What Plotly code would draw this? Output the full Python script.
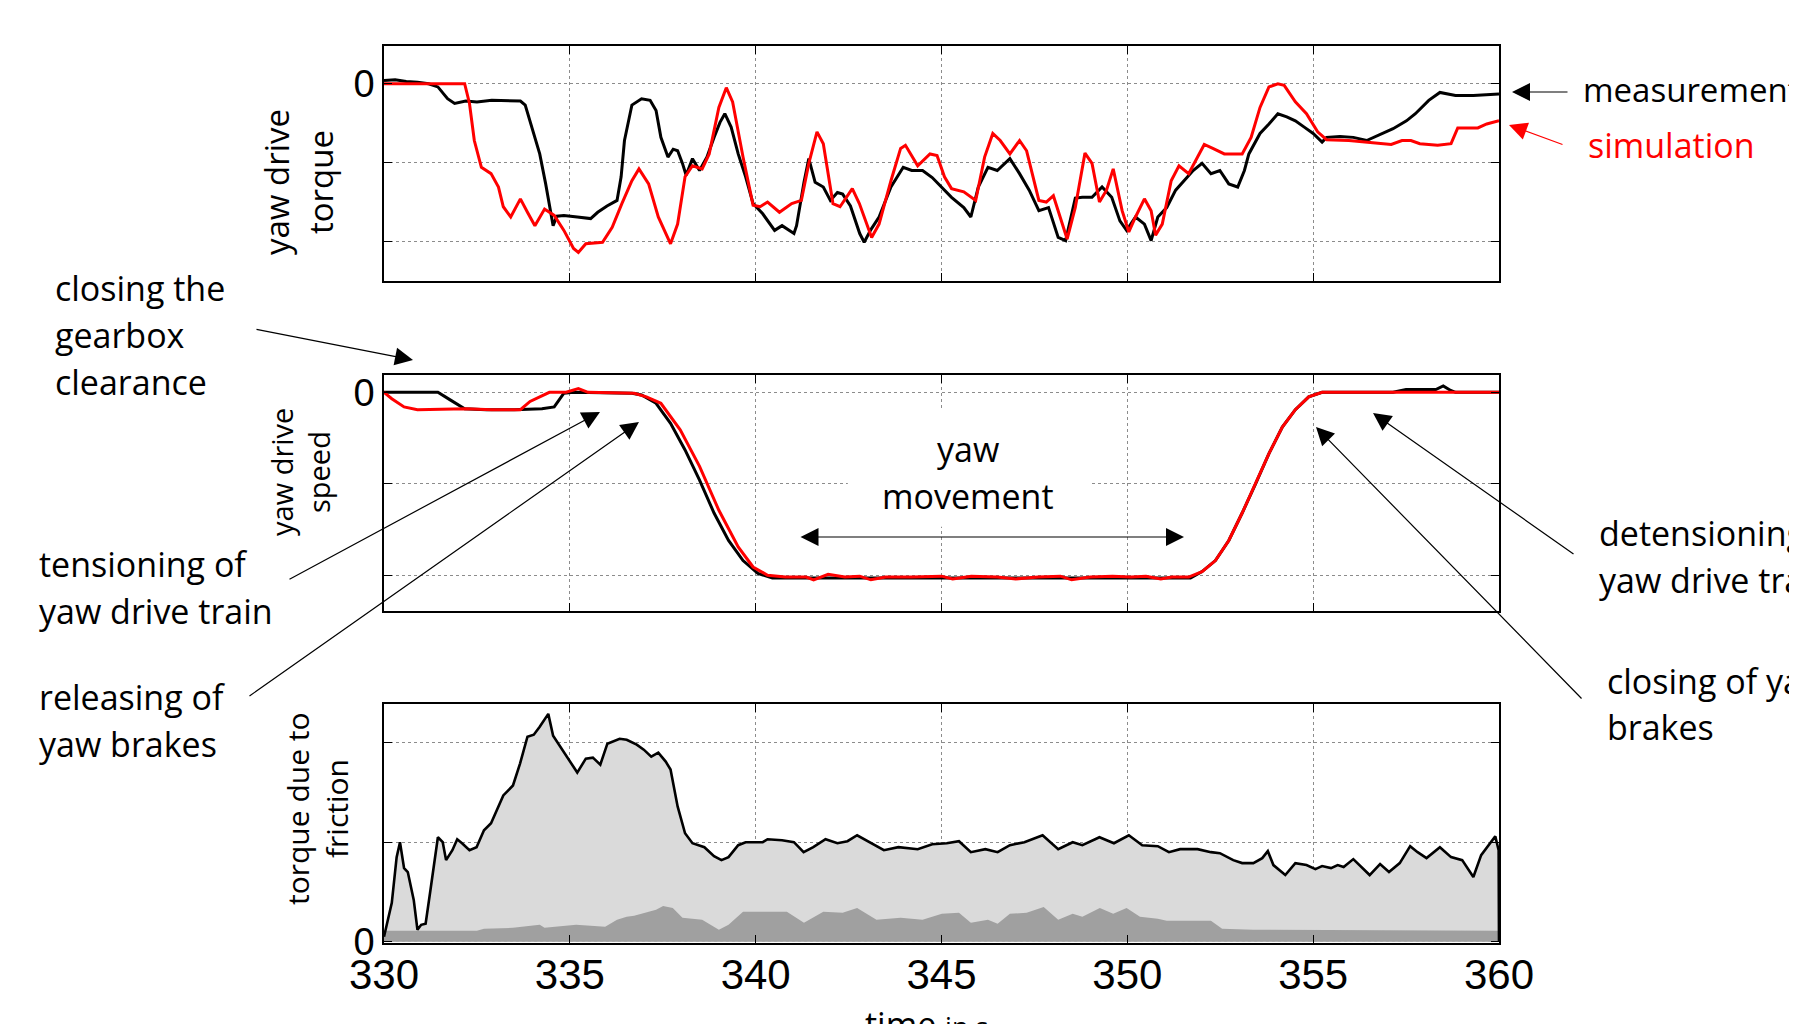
import plotly.graph_objects as go

W, H = 1797, 1024
OFF = 8              # default page margin of the html body
WF, HF = W - OFF, H - OFF

# ---------------- data ----------------
# top panel: yaw drive torque (normalised units, 0 = top gridline)
torque_meas_t = [330.0, 330.3, 330.6, 330.9, 331.2, 331.45, 331.71, 331.9, 332.2, 332.5, 332.9, 333.3,
                 333.67, 333.8, 334.0, 334.19, 334.35, 334.47, 334.55, 334.65, 334.84, 335.2, 335.56,
                 335.75, 336.0, 336.27, 336.38, 336.47, 336.67, 336.93, 337.16, 337.32, 337.45, 337.64,
                 337.78, 337.9, 338.03, 338.13, 338.3, 338.49, 338.69, 338.88, 339.04, 339.17, 339.34,
                 339.53, 339.73, 339.93, 340.19, 340.51, 340.71, 341.03, 341.1, 341.3, 341.43, 341.6,
                 341.82, 342.01, 342.2, 342.34, 342.55, 342.8, 342.92, 343.1, 343.32, 343.64, 343.97,
                 344.2, 344.49, 344.75, 345.01, 345.27, 345.6, 345.79, 345.99, 346.25, 346.5, 346.84,
                 347.1, 347.36, 347.62, 347.88, 348.14, 348.34, 348.6, 348.79, 349.05, 349.32, 349.58,
                 349.8, 349.98, 350.22, 350.46, 350.64, 350.82, 351.06, 351.3, 351.53, 351.77, 352.01,
                 352.25, 352.49, 352.73, 352.97, 353.15, 353.27, 353.57, 353.81, 354.05, 354.29, 354.52,
                 354.76, 355.0, 355.24, 355.36, 355.72, 356.08, 356.44, 356.8, 357.15, 357.51, 357.75,
                 358.11, 358.41, 358.83, 359.31, 360.0]
torque_meas = [0.04, 0.05, 0.03, 0.02, 0.0, -0.04, -0.19, -0.25, -0.22, -0.23, -0.21, -0.22,
               -0.22, -0.27, -0.59, -0.89, -1.27, -1.61, -1.80, -1.68, -1.67, -1.69, -1.71,
               -1.63, -1.55, -1.48, -1.18, -0.72, -0.27, -0.19, -0.21, -0.34, -0.68, -0.93,
               -0.83, -0.85, -1.01, -1.16, -0.95, -1.10, -0.93, -0.68, -0.49, -0.38, -0.55,
               -0.89, -1.18, -1.52, -1.65, -1.86, -1.80, -1.90, -1.80, -1.25, -0.95, -1.25,
               -1.31, -1.48, -1.38, -1.40, -1.55, -1.90, -2.01, -1.85, -1.69, -1.31, -1.06,
               -1.10, -1.10, -1.19, -1.31, -1.44, -1.57, -1.69, -1.31, -1.06, -1.10, -0.95,
               -1.14, -1.35, -1.61, -1.57, -1.95, -1.99, -1.45, -1.44, -1.44, -1.31, -1.44,
               -1.74, -1.86, -1.69, -1.78, -1.99, -1.69, -1.57, -1.35, -1.23, -1.10, -1.01,
               -1.14, -1.10, -1.27, -1.31, -1.10, -0.89, -0.63, -0.51, -0.38, -0.42, -0.47,
               -0.55, -0.63, -0.74, -0.68, -0.67, -0.68, -0.72, -0.64, -0.57, -0.47, -0.38,
               -0.21, -0.11, -0.15, -0.15, -0.13]

torque_sim_t = [330.0, 332.17, 332.3, 332.43, 332.62, 332.88, 333.08, 333.21, 333.41, 333.67, 333.86,
                334.06, 334.32, 334.58, 334.84, 335.1, 335.23, 335.43, 335.88, 336.14, 336.4, 336.67,
                336.86, 337.12, 337.38, 337.71, 337.9, 338.1, 338.3, 338.56, 338.75, 339.01, 339.21,
                339.38, 339.66, 339.93, 340.12, 340.32, 340.64, 340.97, 341.23, 341.43, 341.65, 341.82,
                342.08, 342.27, 342.6, 342.79, 343.12, 343.32, 343.64, 343.9, 344.03, 344.36, 344.69,
                344.88, 345.08, 345.27, 345.6, 345.92, 346.16, 346.38, 346.58, 346.84, 347.1, 347.29,
                347.62, 347.82, 348.01, 348.14, 348.38, 348.6, 348.86, 349.05, 349.25, 349.44, 349.62,
                349.86, 350.04, 350.22, 350.46, 350.64, 350.76, 350.94, 351.18, 351.39, 351.65, 351.89,
                352.07, 352.3, 352.61, 353.09, 353.33, 353.57, 353.81, 354.05, 354.22, 354.52, 354.82,
                355.12, 355.36, 355.96, 356.44, 357.1, 357.39, 357.63, 357.87, 358.35, 358.71, 358.89,
                359.43, 359.67, 360.0]
torque_sim = [0.0, 0.0, -0.25, -0.72, -1.06, -1.14, -1.31, -1.56, -1.69, -1.46, -1.63,
              -1.80, -1.59, -1.67, -1.86, -2.09, -2.14, -2.03, -2.01, -1.82, -1.52, -1.23,
              -1.08, -1.27, -1.69, -2.03, -1.78, -1.18, -1.04, -1.08, -0.89, -0.30, -0.05,
              -0.23, -0.93, -1.54, -1.56, -1.50, -1.63, -1.52, -1.48, -1.01, -0.61, -0.76,
              -1.52, -1.56, -1.33, -1.52, -1.95, -1.78, -1.23, -0.82, -0.78, -1.04, -0.89,
              -0.91, -1.18, -1.33, -1.37, -1.48, -0.93, -0.63, -0.72, -0.89, -0.72, -0.85,
              -1.48, -1.50, -1.42, -1.61, -1.97, -1.57, -0.88, -1.01, -1.50, -1.35, -1.08,
              -1.61, -1.88, -1.69, -1.46, -1.61, -1.92, -1.78, -1.23, -1.04, -1.14, -0.93,
              -0.77, -0.82, -0.89, -0.89, -0.68, -0.30, -0.04, 0.0, -0.02, -0.23, -0.38,
              -0.61, -0.71, -0.72, -0.74, -0.77, -0.72, -0.72, -0.76, -0.78, -0.76, -0.56,
              -0.56, -0.51, -0.47]

# middle panel: yaw drive speed
speed_meas_t = [330.0, 331.45, 331.77, 332.17, 332.75, 333.5, 334.25, 334.58, 334.84, 335.1, 336.67,
                336.93, 337.32, 337.71, 338.1, 338.49, 338.88, 339.27, 339.66, 340.06, 340.45, 351.7,
                352.01, 352.37, 352.73, 353.09, 353.45, 353.81, 354.17, 354.52, 354.88, 355.24, 357.15,
                357.5, 358.3, 358.5, 358.7, 358.83, 360.0]
speed_meas = [0.0, 0.0, -0.08, -0.18, -0.19, -0.19, -0.18, -0.16, -0.01, 0.0, -0.01,
              -0.03, -0.12, -0.34, -0.63, -0.96, -1.32, -1.62, -1.84, -1.98, -2.03, -2.03,
              -1.96, -1.84, -1.62, -1.32, -1.0, -0.67, -0.38, -0.19, -0.05, 0.0, 0.0,
              0.03, 0.03, 0.07, 0.02, 0.0, 0.0]

speed_sim_t = [330.0, 330.21, 330.54, 330.9, 332.2, 332.9, 333.67, 333.93, 334.45, 334.9, 335.23,
               335.49, 336.73, 337.06, 337.45, 337.97, 338.49, 339.01, 339.53, 339.93, 340.32, 340.8,
               341.36, 341.56, 341.95, 342.4, 342.8, 343.1, 343.5, 344.2, 345.0, 345.3, 345.8,
               346.5, 347.0, 347.6, 348.2, 348.5, 349.0, 349.6, 350.1, 350.5, 350.9, 351.2,
               351.65, 352.01, 352.37, 352.73, 353.09, 353.45, 353.81, 354.17, 354.52, 354.88,
               355.24, 360.0]
speed_sim = [0.0, -0.07, -0.16, -0.19, -0.18, -0.19, -0.19, -0.10, 0.0, 0.0, 0.04,
             0.0, -0.01, -0.05, -0.12, -0.41, -0.81, -1.29, -1.69, -1.91, -2.0, -2.02,
             -2.02, -2.05, -1.99, -2.02, -2.01, -2.05, -2.02, -2.02, -2.01, -2.04, -2.01,
             -2.02, -2.04, -2.02, -2.01, -2.05, -2.02, -2.01, -2.02, -2.01, -2.04, -2.02,
             -2.02, -1.96, -1.84, -1.62, -1.32, -1.0, -0.67, -0.38, -0.19, -0.05,
             0.0, 0.0]

# bottom panel: torque due to friction (total) and the dark-grey share
friction_t = [330.0, 330.21, 330.34, 330.43, 330.54, 330.64, 330.8, 330.9, 331.0, 331.12, 331.25,
              331.38, 331.45, 331.58, 331.67, 331.84, 331.97, 332.1, 332.3, 332.49, 332.69, 332.88,
              333.21, 333.47, 333.66, 333.86, 334.03, 334.19, 334.42, 334.55, 334.84, 335.2, 335.43,
              335.62, 335.82, 336.01, 336.34, 336.53, 336.8, 336.99, 337.19, 337.38, 337.58, 337.71,
              337.9, 338.1, 338.3, 338.62, 338.88, 339.08, 339.27, 339.53, 339.73, 340.19, 340.32,
              340.71, 341.03, 341.29, 341.55, 341.88, 342.2, 342.47, 342.73, 343.06, 343.45, 343.84,
              344.36, 344.75, 345.14, 345.47, 345.79, 346.18, 346.51, 346.84, 347.23, 347.72, 348.14,
              348.53, 348.79, 349.25, 349.64, 350.04, 350.4, 350.82, 351.12, 351.42, 351.89, 352.25,
              352.49, 352.85, 353.09, 353.39, 353.63, 353.78, 353.93, 354.25, 354.52, 354.82, 355.06,
              355.24, 355.48, 355.66, 355.82, 356.08, 356.32, 356.52, 356.8, 357.04, 357.33, 357.61,
              357.81, 358.05, 358.41, 358.71, 359.01, 359.31, 359.52, 359.9, 359.99, 360.0]
friction = [0.05, 0.39, 0.85, 1.0, 0.74, 0.70, 0.42, 0.12, 0.17, 0.18, 0.52,
            0.85, 1.05, 1.0, 0.82, 0.92, 1.03, 0.99, 0.92, 0.95, 1.12, 1.19,
            1.47, 1.57, 1.79, 2.06, 2.08, 2.16, 2.29, 2.07, 1.91, 1.70, 1.84,
            1.85, 1.78, 1.99, 2.04, 2.03, 1.98, 1.93, 1.86, 1.90, 1.81, 1.73,
            1.36, 1.09, 0.99, 0.95, 0.86, 0.82, 0.85, 0.97, 1.0, 1.0, 1.03,
            1.02, 1.0, 0.90, 0.95, 1.03, 0.99, 1.01, 1.07, 1.0, 0.92, 0.95,
            0.93, 0.98, 0.99, 1.01, 0.90, 0.93, 0.90, 0.97, 1.0, 1.07, 0.93,
            1.0, 0.97, 1.05, 0.99, 1.07, 0.97, 0.96, 0.90, 0.93, 0.93, 0.90,
            0.89, 0.82, 0.79, 0.79, 0.84, 0.91, 0.77, 0.67, 0.79, 0.77, 0.73,
            0.76, 0.74, 0.77, 0.75, 0.83, 0.74, 0.67, 0.78, 0.70, 0.79, 0.96,
            0.90, 0.84, 0.95, 0.85, 0.82, 0.65, 0.87, 1.06, 0.92, 0.0]

friction_dark_t = [330.0, 332.5, 332.69, 333.47, 334.19, 334.32, 335.17, 335.95, 336.27, 336.53, 336.73,
                   336.93, 337.32, 337.51, 337.77, 338.03, 338.56, 339.01, 339.27, 339.66, 340.06,
                   340.84, 341.3, 341.82, 342.34, 342.73, 343.25, 343.9, 344.49, 345.01, 345.47,
                   345.79, 346.25, 346.51, 346.84, 347.29, 347.75, 348.14, 348.53, 348.79, 349.26,
                   349.62, 349.98, 350.34, 350.82, 351.06, 352.25, 352.55, 353.39, 353.81, 360.0]
friction_dark = [0.11, 0.11, 0.13, 0.14, 0.17, 0.14, 0.17, 0.15, 0.22, 0.25, 0.26,
                 0.28, 0.32, 0.36, 0.34, 0.24, 0.22, 0.12, 0.17, 0.30, 0.30,
                 0.30, 0.19, 0.30, 0.29, 0.34, 0.22, 0.24, 0.22, 0.28, 0.29,
                 0.19, 0.22, 0.18, 0.28, 0.29, 0.35, 0.22, 0.28, 0.25, 0.34,
                 0.28, 0.34, 0.25, 0.23, 0.21, 0.21, 0.13, 0.12, 0.12, 0.11]

x_ticks = [330, 335, 340, 345, 350, 355, 360]
x_ticktext = ["330", "335", "340", "345", "350", "355", "360"]

# ---------------- figure ----------------
def px(x):
    return (x - OFF) / WF


def py(y):
    return 1 - (y - OFF) / HF


RED = "#ff0000"
BLACK = "#000000"
TXT_FONT = "Open Sans, Lato, sans-serif"
TICK_FONT = "Liberation Sans, Arial, sans-serif"

fig = go.Figure()

fig.add_trace(go.Scatter(x=torque_meas_t, y=torque_meas, mode="lines",
                         line=dict(color=BLACK, width=3), xaxis="x", yaxis="y"))
fig.add_trace(go.Scatter(x=torque_sim_t, y=torque_sim, mode="lines",
                         line=dict(color=RED, width=3), xaxis="x", yaxis="y"))

fig.add_trace(go.Scatter(x=speed_meas_t, y=speed_meas, mode="lines",
                         line=dict(color=BLACK, width=3), xaxis="x2", yaxis="y2"))
fig.add_trace(go.Scatter(x=speed_sim_t, y=speed_sim, mode="lines",
                         line=dict(color=RED, width=3), xaxis="x2", yaxis="y2"))

fig.add_trace(go.Scatter(x=friction_t, y=friction, mode="lines", fill="tozeroy",
                         fillcolor="#dadada", line=dict(width=0), xaxis="x3", yaxis="y3"))
fig.add_trace(go.Scatter(x=friction_dark_t, y=friction_dark, mode="lines", fill="tozeroy",
                         fillcolor="#a0a0a0", line=dict(width=0), xaxis="x3", yaxis="y3"))
fig.add_trace(go.Scatter(x=friction_t, y=friction, mode="lines",
                         line=dict(color=BLACK, width=2.6), xaxis="x3", yaxis="y3"))

xdom = [px(384), px(1499)]
common_x = dict(range=[330, 360], tickvals=x_ticks, ticktext=x_ticktext,
                showgrid=True, gridcolor="#8c8c8c", griddash="dot", gridwidth=1,
                showline=True, linecolor=BLACK, linewidth=1.5, mirror="ticks",
                ticks="inside", ticklen=8, tickcolor=BLACK, tickwidth=1,
                zeroline=False, domain=xdom, fixedrange=True, automargin=False)
common_y = dict(showgrid=True, gridcolor="#8c8c8c", griddash="dot", gridwidth=1,
                showline=True, linecolor=BLACK, linewidth=1.5, mirror="ticks",
                ticks="inside", ticklen=8, tickcolor=BLACK, tickwidth=1,
                zeroline=False, fixedrange=True, automargin=False,
                tickfont=dict(family=TICK_FONT, size=38, color=BLACK),
                ticklabelstandoff=0)

fig.update_layout(
    template="none",
    width=WF, height=HF,
    margin=dict(l=0, r=0, t=0, b=0, autoexpand=False),
    paper_bgcolor="white", plot_bgcolor="white",
    showlegend=False, hovermode=False,
    xaxis=dict(**common_x, anchor="y", showticklabels=False),
    xaxis2=dict(**common_x, anchor="y2", showticklabels=False),
    xaxis3=dict(**common_x, anchor="y3", showticklabels=True,
                tickfont=dict(family=TICK_FONT, size=42, color=BLACK), ticklabelstandoff=-6),
    yaxis=dict(**common_y, anchor="x", domain=[py(281), py(46)], range=[-2.502, 0.479],
               tickvals=[0, -1, -2], ticktext=["0", "", ""]),
    yaxis2=dict(**common_y, anchor="x2", domain=[py(611), py(375)], range=[-2.391, 0.189],
                tickvals=[0, -1, -2], ticktext=["0", "", ""]),
    yaxis3=dict(**common_y, anchor="x3", domain=[py(943), py(704)], range=[-0.013, 2.389],
                tickvals=[0, 1, 2], ticktext=["0", "", ""]),
)

# white box behind "yaw movement"
fig.add_shape(type="rect", xref="x2", yref="y2", x0=342.48, x1=348.97, y0=-1.47, y1=-0.18,
              fillcolor="white", line=dict(width=0), layer="between")

ann = []


def text(s, x, y, size=34, color=BLACK, xanchor="left", angle=0, font=TXT_FONT):
    ann.append(dict(text=s, x=px(x), y=py(y), xref="paper", yref="paper",
                    xanchor=xanchor, yanchor="middle", showarrow=False, textangle=angle,
                    font=dict(family=font, size=size, color=color)))


def arrow(tail, tip, color=BLACK, width=1.2, size=3.0, side="end"):
    ann.append(dict(text="", x=px(tip[0]), y=py(tip[1]), xref="paper", yref="paper",
                    ax=tail[0] - tip[0], ay=tail[1] - tip[1], showarrow=True,
                    arrowhead=2, arrowsize=size, arrowwidth=width, arrowcolor=color,
                    arrowside=side, startarrowhead=2, startarrowsize=size))


# left annotations
text("closing the", 53, 288)
text("gearbox", 53, 335)
text("clearance", 53, 382)
arrow((255, 329), (413, 360))

text("tensioning of", 37, 564)
text("yaw drive train", 37, 611)
arrow((288, 580), (600, 412))

text("releasing of", 37, 697)
text("yaw brakes", 37, 744)
arrow((248, 697), (639, 422))

# yaw movement
text("yaw", 968, 449, xanchor="center")
text("movement", 968, 496, xanchor="center")
arrow((799, 537), (1184, 537), side="end+start")

# right annotations
text("measurement", 1581, 90, size=33)
arrow((1569, 92), (1512, 92))
text("simulation", 1586, 145, color=RED)
arrow((1564, 145), (1509, 125), color=RED)

text("detensioning of", 1597, 533)
text("yaw drive train", 1597, 580)
arrow((1575, 555), (1373, 413))

text("closing of yaw", 1605, 681)
text("brakes", 1605, 727)
arrow((1583, 700), (1316, 427))

# axis titles (rotated)
text("yaw drive", 276, 182, size=33, xanchor="center", angle=-90)
text("torque", 320, 182, size=33, xanchor="center", angle=-90)
text("yaw drive", 281, 472, size=29, xanchor="center", angle=-90)
text("speed", 318, 472, size=29, xanchor="center", angle=-90)
text("torque due to", 297, 809, size=30, xanchor="center", angle=-90)
text("friction", 336, 809, size=30, xanchor="center", angle=-90)

# x-axis title (cut by the lower edge as in the reference)
ann.append(dict(text="time <span style='font-size:27px'>in s</span>", x=px(926), y=py(999),
                xref="paper", yref="paper", xanchor="center", yanchor="top", showarrow=False,
                font=dict(family=TXT_FONT, size=34, color=BLACK)))

fig.update_layout(annotations=ann)

fig.write_html("out.html")
